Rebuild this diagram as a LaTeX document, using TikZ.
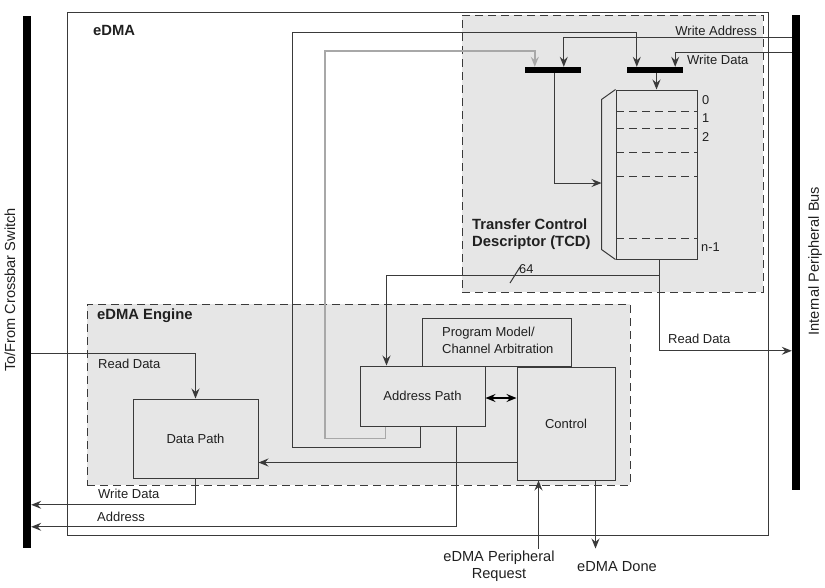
\documentclass[tikz,border=0pt]{standalone}
\usepackage{fontspec}
\setmainfont{Liberation Sans}
\usetikzlibrary{arrows.meta,calc}
\definecolor{ln}{HTML}{3A3A3A}
\definecolor{bg}{HTML}{E6E6E6}
\definecolor{gl}{HTML}{A8A8A8}
\definecolor{tx}{HTML}{202020}
\tikzset{
 lbl/.style={font=\fontsize{13}{17}\selectfont, inner sep=0pt, text=tx},
 xlbl/.style={font=\fontsize{14.6}{17}\selectfont, inner sep=0pt, text=tx},
 slbl/.style={font=\fontsize{12.8}{14}\selectfont, inner sep=0pt, text=tx},
 blbl/.style={font=\bfseries\fontsize{14.8}{17}\selectfont, inner sep=0pt, text=tx},
 blk/.style={draw=ln, fill=bg, line width=1pt, inner sep=0pt},
 region/.style={draw=ln, fill=bg, dash pattern=on 8pt off 5pt, line width=1pt, inner sep=0pt},
 wire/.style={draw=ln, line width=1pt},
 gwire/.style={draw=gl, line width=1.4pt},
 tip/.style={-{Stealth[length=10pt,width=8pt,inset=3.5pt]}},
 bus/.style={fill=black, inner sep=0pt, draw=none},
}
\begin{document}
\begin{tikzpicture}[x=1pt,y=-1pt]
\useasboundingbox (0,0) rectangle (825,587);
% outer eDMA box
\node[draw=ln, line width=1pt, minimum width=701pt, minimum height=523pt, inner sep=0pt] (edma) at (417.5,273.5) {};
\node[blbl, anchor=west] (edmalbl) at (93,30) {eDMA};
% buses
\node[bus, minimum width=8pt, minimum height=532pt] (lbus) at (27,282) {};
\node[bus, minimum width=8pt, minimum height=475pt] (rbus) at (796,252.5) {};
\node[xlbl, rotate=90] (lbuslbl) at (10,290) {To/From Crossbar Switch};
\node[xlbl, rotate=90] (rbuslbl) at (815,261) {Internal Peripheral Bus};
% regions
\node[region, minimum width=301pt, minimum height=277pt] (tcdr) at (612.5,153.5) {};
\node[region, minimum width=543pt, minimum height=181pt] (engr) at (358.5,394.5) {};
\node[blbl, anchor=west, align=left] (tcdlbl) at (472,234.5) {Transfer Control\\Descriptor (TCD)};
\node[blbl, anchor=west] (englbl) at (97,316) {eDMA Engine};
% TCD register
\node[blk, minimum width=81pt, minimum height=169pt] (reg) at (656.5,174.5) {};
\draw[wire, fill=bg] (reg.north west) -- ++(-14,10) -- ++(0,150) -- (reg.south west);
\coordinate (trap) at ($(reg.west)+(-14,8.5)$);
\foreach \yy in {111,128,152,176,238}
  \draw[wire, dash pattern=on 8pt off 5pt] (616,\yy) -- (697,\yy);
\node[slbl, anchor=west] (r0) at (702,100) {0};
\node[slbl, anchor=west] (r1) at (702,118) {1};
\node[slbl, anchor=west] (r2) at (702,137) {2};
\node[slbl, anchor=west] (rn) at (701,247) {n-1};
% mux bars
\node[bus, minimum width=56pt, minimum height=6pt] (muxa) at (553,70) {};
\node[bus, minimum width=56pt, minimum height=6pt] (muxb) at (655,70) {};
% engine blocks
\node[blk, minimum width=125pt, minimum height=79pt] (dp) at (195.5,438.5) {};
\node[lbl] at (dp.center) {Data Path};
\node[blk, minimum width=149pt, minimum height=48pt] (pm) at (496.5,342) {};
\node[lbl, anchor=west, align=left] at (442,340) {Program Model/\\Channel Arbitration};
\node[blk, minimum width=125pt, minimum height=60pt] (ap) at (422.5,396) {};
\node[lbl] at (ap.center) {Address Path};
\node[blk, minimum width=98pt, minimum height=113pt] (ct) at (566,423.5) {};
\node[lbl] at (ct.center) {Control};
% routes from address path to TCD muxes
\draw[gwire, tip] ($(ap.south west)+(26,0)$) -- ++(0,12) -| (325,51) -| ($(muxa.north west)+(10,0)$);
\draw[wire, tip] ($(ap.south west)+(61,0)$) -- ++(0,21) -| (292,32) -| ($(muxb.north west)+(10,0)$);
% write address / write data from peripheral bus
\draw[wire, tip] ($(rbus.north west)+(0,23)$) -| ($(muxa.north west)+(39,0)$);
\draw[wire, tip] ($(rbus.north west)+(0,38)$) -| ($(muxb.north east)+(-8,0)$);
\node[lbl, anchor=east] (wal) at (757,31) {Write Address};
\node[lbl, anchor=west] (wdl) at (687,60) {Write Data};
% mux outputs
\draw[wire, tip] ($(muxa.south)+(1,0)$) |- (trap);
\draw[wire, tip] (muxb.south -| reg.north) -- (reg.north);
% TCD outputs
\draw[wire, tip] ($(reg.south)+(3,0)$) |- ($(rbus.north west)+(0,336)$);
\node[lbl, anchor=west] (rdr) at (668,339) {Read Data};
\draw[wire, tip] ($(reg.south)+(3,16)$) -| ($(ap.north west)+(27,0)$);
\draw[wire] (510,283) -- (520,267);
\node[slbl, anchor=west] (w64) at (519,269) {64};
% address path <-> control
\draw[line width=2pt, draw=black, {Stealth[length=10pt,width=8pt,inset=3.5pt]}-{Stealth[length=10pt,width=8pt,inset=3.5pt]}] ($(ap.east)+(0,2)$) -- ($(ap.east -| ct.west)+(0,2)$);
% control -> data path
\coordinate (c1) at ($(ct.west)+(0,39)$);
\draw[wire, tip] (c1) -- (c1 -| dp.east);
% crossbar side
\draw[wire, tip] ($(lbus.north east)+(0,338)$) -| (dp.north);
\node[lbl, anchor=west] (rdl) at (98,364) {Read Data};
\draw[wire, tip] (dp.south) |- ($(lbus.north east)+(0,489)$);
\node[lbl, anchor=west] (wdl2) at (98,494) {Write Data};
\draw[wire, tip] ($(ap.south west)+(97,0)$) |- ($(lbus.north east)+(0,511)$);
\node[lbl, anchor=west] (adl) at (97,517) {Address};
% request / done
\coordinate (preq) at ($(ct.south west)+(22,68)$);
\draw[wire, tip] (preq) -- ($(ct.south west)+(22,0)$);
\node[xlbl, align=center] (preql) at (499,566.5) {eDMA Peripheral\\Request};
\coordinate (done) at ($(ct.south west)+(79,68)$);
\draw[wire, tip] ($(ct.south west)+(79,0)$) -- (done);
\node[xlbl] (donel) at (617,567) {eDMA Done};
\end{tikzpicture}
\end{document}
